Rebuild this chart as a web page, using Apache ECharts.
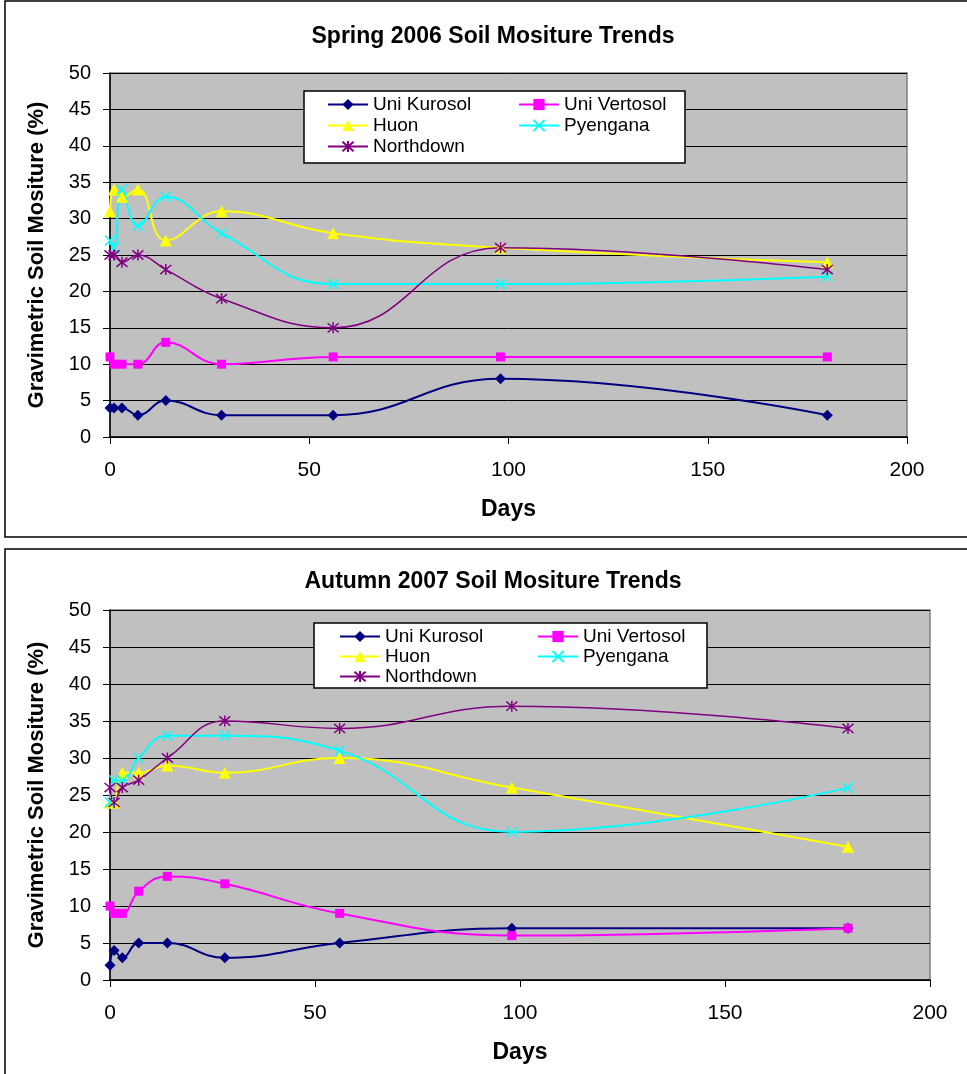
<!DOCTYPE html>
<html>
<head>
<meta charset="utf-8">
<script src="https://cdn.jsdelivr.net/npm/echarts@6/dist/echarts.min.js"></script>
<style>
html,body{margin:0;padding:0;background:#fff;}
#chart{width:967px;height:1074px;}
</style>
</head>
<body>
<div id="chart"></div>
<script>
// ---- data ----
const days = [0, 1, 3, 7, 14, 28, 56, 98, 180];
const seriesNames = ['Uni Kurosol', 'Uni Vertosol', 'Huon', 'Pyengana', 'Northdown'];

// Spring 2006
const springKurosol  = [4, 4, 4, 3, 5, 3, 3, 8, 3];
const springVertosol = [11, 10, 10, 10, 13, 10, 11, 11, 11];
const springHuon     = [31, 34, 33, 34, 27, 31, 28, 26, 24];
const springPyengana = [27, 26, 34, 29, 33, 28, 21, 21, 22];
const springNorthdown= [25, 25, 24, 25, 23, 19, 15, 26, 23];

// Autumn 2007
const autumnKurosol  = [2, 4, 3, 5, 5, 3, 5, 7, 7];
const autumnVertosol = [10, 9, 9, 12, 14, 13, 9, 6, 7];
const autumnHuon     = [24, 24, 28, 28, 29, 28, 30, 26, 18];
const autumnPyengana = [24, 27, 27, 30, 33, 33, 31, 20, 26];
const autumnNorthdown= [26, 24, 26, 27, 30, 35, 34, 37, 34];

const titles = ['Spring 2006 Soil Mositure Trends', 'Autumn 2007 Soil Mositure Trends'];
const yTicks = { min: 0, max: 50, interval: 5 };
const xTicks = { min: 0, max: 200, interval: 50 };
const yName = 'Gravimetric Soil Mositure (%)';
const xName = 'Days';

// ---- styles ----
const FONT = '"Liberation Sans", Arial, sans-serif';
const styles = {
  'Uni Kurosol':  { color: '#000080', symbol: 'diamond', size: 11, lw: 2 },
  'Uni Vertosol': { color: '#FF00FF', symbol: 'rect', size: 9, lw: 2 },
  'Huon':         { color: '#FFFF00', symbol: 'triangle', size: 12, lw: 2 },
  'Pyengana':     { color: '#00FFFF', symbol: 'path://M0,0L10,10M10,0L0,10', size: 10, lw: 2, stroke: true },
  'Northdown':    { color: '#800080', symbol: 'path://M0,0L10,10M10,0L0,10M5,-1L5,11', size: 11, lw: 1.5, stroke: true }
};

const springData = [springKurosol, springVertosol, springHuon, springPyengana, springNorthdown];
const autumnData = [autumnKurosol, autumnVertosol, autumnHuon, autumnPyengana, autumnNorthdown];

function pairs(vals) { return days.map((d, i) => [d, vals[i]]); }

function makeSeries(dataSets, idx) {
  return seriesNames.map((name, i) => {
    const s = styles[name];
    return {
      name: name,
      type: 'line',
      xAxisIndex: idx,
      yAxisIndex: idx,
      data: pairs(dataSets[i]),
      smooth: 0.45,
      symbol: s.symbol,
      symbolSize: s.size,
      showAllSymbol: true,
      lineStyle: { color: s.color, width: s.lw },
      itemStyle: s.stroke ? { color: s.color, borderColor: s.color, borderWidth: 1.5 } : { color: s.color, borderWidth: 0 },
      emphasis: { disabled: true },
      animation: false,
      z: 2
    };
  });
}

const grids = [
  { left: 110, top: 73, width: 797, height: 364 },
  { left: 110, top: 610, width: 820, height: 370 }
];

function xAxis(idx) {
  return {
    type: 'value', gridIndex: idx,
    min: xTicks.min, max: xTicks.max, interval: xTicks.interval,
    name: xName, nameLocation: 'middle', nameGap: 61,
    nameTextStyle: { fontFamily: FONT, fontWeight: 'bold', fontSize: 23, color: '#000' },
    axisLine: { show: true, onZero: false, lineStyle: { color: '#000', width: 1.5 } },
    axisTick: { show: true, inside: false, length: 7, lineStyle: { color: '#000' } },
    axisLabel: { fontFamily: FONT, fontSize: 21, color: '#000', margin: 23 },
    splitLine: { show: false }
  };
}
function yAxis(idx) {
  return {
    type: 'value', gridIndex: idx,
    min: yTicks.min, max: yTicks.max, interval: yTicks.interval,
    name: yName, nameLocation: 'middle', nameGap: 62, nameRotate: 90,
    nameTextStyle: { fontFamily: FONT, fontWeight: 'bold', fontSize: 22, color: '#000' },
    axisLine: { show: true, onZero: false, lineStyle: { color: '#000', width: 1.5 } },
    axisTick: { show: true, inside: false, length: 7, lineStyle: { color: '#000' } },
    axisLabel: { fontFamily: FONT, fontSize: 20, color: '#000', margin: 19 },
    splitLine: { show: true, lineStyle: { color: '#000', width: 1 } }
  };
}

function legend(left, top, data, lh, gap) {
  return {
    orient: 'vertical', left: left, top: top, padding: 0,
    data: data, itemWidth: 40, itemHeight: 14, itemGap: gap,
    textStyle: { fontFamily: FONT, fontSize: 19, color: '#000', lineHeight: lh },
    selectedMode: false, z: 10
  };
}

const option = {
  animation: false,
  backgroundColor: '#fff',
  title: [
    { text: titles[0], left: 493, top: 25, textAlign: 'center',
      textStyle: { fontFamily: FONT, fontWeight: 'bold', fontSize: 23, color: '#000' }, padding: 0 },
    { text: titles[1], left: 493, top: 570, textAlign: 'center',
      textStyle: { fontFamily: FONT, fontWeight: 'bold', fontSize: 23, color: '#000' }, padding: 0 }
  ],
  grid: grids.map(g => Object.assign({ show: true, backgroundColor: '#C0C0C0', borderColor: '#808080', borderWidth: 1.5 }, g)),
  xAxis: [xAxis(0), xAxis(1)],
  yAxis: [yAxis(0), yAxis(1)],
  legend: [
    legend(327, 95, ['Uni Kurosol', 'Huon', 'Northdown'], 19, 2),
    legend(518, 95, ['Uni Vertosol', 'Pyengana'], 19, 2),
    legend(339, 627, ['Uni Kurosol', 'Huon', 'Northdown'], 18, 1),
    legend(537, 627, ['Uni Vertosol', 'Pyengana'], 18, 1)
  ],
  graphic: [
    { type: 'rect', shape: { x: 5, y: 1, width: 990, height: 536 }, style: { fill: 'none', stroke: '#000', lineWidth: 1.5 }, z: 0 },
    { type: 'rect', shape: { x: 5, y: 549, width: 990, height: 560 }, style: { fill: 'none', stroke: '#000', lineWidth: 1.5 }, z: 0 },
    { type: 'rect', shape: { x: 304, y: 91, width: 381, height: 72 }, style: { fill: '#fff', stroke: '#000', lineWidth: 1.5 }, z: 5 },
    { type: 'rect', shape: { x: 314, y: 623, width: 393, height: 65 }, style: { fill: '#fff', stroke: '#000', lineWidth: 1.5 }, z: 5 }
  ],
  series: makeSeries(springData, 0).concat(makeSeries(autumnData, 1))
};

const chart = echarts.init(document.getElementById('chart'), null, { renderer: 'canvas' });
chart.setOption(option);
</script>
</body>
</html>
